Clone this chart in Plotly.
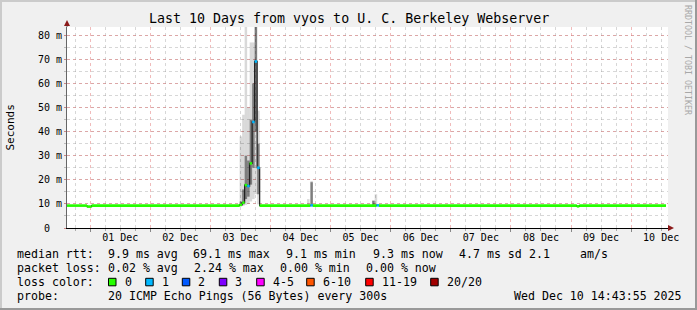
import plotly.graph_objects as go

# ---------------- data ----------------
t_start = "2025-11-30 14:43:55"
t_end = "2025-12-10 14:43:55"

# median rtt (ms) as steps: value holds from time i to time i+1
med_time = ["2025-11-30 14:43:55", "2025-11-30 22:44", "2025-12-01 00:33",
            "2025-12-03 11:40", "2025-12-03 12:40", "2025-12-03 13:40",
            "2025-12-03 14:40", "2025-12-03 15:40", "2025-12-03 16:40",
            "2025-12-03 17:40", "2025-12-03 18:40", "2025-12-03 19:40",
            "2025-12-04 15:55", "2025-12-04 16:55", "2025-12-05 18:20",
            "2025-12-05 19:20", "2025-12-09 02:19", "2025-12-09 03:19",
            "2025-12-10 13:55"]
med_val = [9.3, 8.9, 9.3, 9.6, 10.5, 17.8, 17.4, 26.8, 44.0, 69.1, 25.0,
           9.3, 9.4, 9.3, 9.4, 9.3, 9.0, 9.3]
med_loss = [0, 0, 0, 0, 0, 0, 1, 0, 1, 1, 1, 0, 1, 0, 1, 0, 0, 0]

# smoke (ping spread) per hourly bin, ms
smoke_time = ["2025-12-03 12:10", "2025-12-03 13:10", "2025-12-03 14:10",
              "2025-12-03 15:10", "2025-12-03 16:10", "2025-12-03 17:10",
              "2025-12-03 18:10", "2025-12-03 19:10",
              "2025-12-04 15:05", "2025-12-04 16:25",
              "2025-12-05 17:06", "2025-12-05 18:06"]
smoke_min = [9.0, 9.2, 9.6, 10.0, 11.0, 12.0, 14.0, 9.8, 9.2, 9.2, 9.2, 9.2]
smoke_q1 = [9.3, 9.8, 12.0, 13.0, 18.0, 25.0, 40.0, 14.0, 9.3, 9.4, 9.3, 9.3]
smoke_q3 = [11.0, 16.0, 30.0, 28.0, 45.0, 60.0, 90.0, 35.0, 9.6, 19.0, 11.3, 9.8]
smoke_max = [38.0, 47.0, 95.0, 50.0, 77.0, 77.0, 95.0, 48.7, 12.0, 19.5, 11.5, 14.0]

y_tickvals = [0, 10, 20, 30, 40, 50, 60, 70, 80]
y_ticktext = ["0\u00a0\u00a0", "10 m", "20 m", "30 m", "40 m", "50 m", "60 m", "70 m", "80 m"]

loss_labels = ["0", "1", "2", "3", "4-5", "6-10", "11-19", "20/20"]
loss_colors = ["#26ff00", "#00b8ff", "#0059ff", "#7e00ff", "#ff00ff", "#ff5500", "#ff0000", "#a10000"]

title = "Last 10 Days from vyos to U. C. Berkeley Webserver"
row_rtt = ["median rtt:", "9.9 ms avg", "69.1 ms max", "9.1 ms min", "9.3 ms now", "4.7 ms sd", "2.1", "am/s"]
row_loss = ["packet loss:", "0.02 % avg", "2.24 % max", "0.00 % min", "0.00 % now"]
probe_text = ["probe:", "20 ICMP Echo Pings (56 Bytes) every 300s", "Wed Dec 10 14:43:55 2025"]

# ---------------- layout geometry (pixels) ----------------
W, H = 697, 310
L, R, T, B = 67, 668, 27, 228
MONO = "DejaVu Sans Mono"


def px(x):
    return (x - L) / (R - L)


def py(y):
    return (B - y) / (B - T)


fig = go.Figure()

# smoke bands
fig.add_trace(go.Bar(x=smoke_time, base=smoke_min,
                     y=[a - b for a, b in zip(smoke_max, smoke_min)],
                     width=3600000, marker=dict(color="rgba(0,0,0,0.15)", line=dict(width=0)),
                     hoverinfo="skip", showlegend=False))
fig.add_trace(go.Bar(x=smoke_time, base=smoke_q1,
                     y=[a - b for a, b in zip(smoke_q3, smoke_q1)],
                     width=3600000, marker=dict(color="rgba(0,0,0,0.42)", line=dict(width=0)),
                     hoverinfo="skip", showlegend=False))

# dark step line of medians
fig.add_trace(go.Scatter(x=med_time, y=med_val + [med_val[-1]], mode="lines",
                         line=dict(color="#1e1e1e", width=1.2, shape="hv"),
                         hoverinfo="skip", showlegend=False))

# colored median segments by loss
for li, col in enumerate(loss_colors):
    xs, ys = [], []
    for i, v in enumerate(med_val):
        if med_loss[i] == li:
            xs += [med_time[i], med_time[i + 1], None]
            ys += [v, v, None]
    if xs:
        fig.add_trace(go.Scatter(x=xs, y=ys, mode="lines",
                                 line=dict(color=col, width=2.6),
                                 hoverinfo="skip", showlegend=False))

shapes = []
# frame borders
shapes.append(dict(type="rect", xref="paper", yref="paper", x0=px(0), x1=px(W), y0=py(0), y1=py(2),
                   fillcolor="#cbcbcb", line=dict(width=0), layer="above"))
shapes.append(dict(type="rect", xref="paper", yref="paper", x0=px(0), x1=px(2), y0=py(0), y1=py(H),
                   fillcolor="#cbcbcb", line=dict(width=0), layer="above"))
shapes.append(dict(type="rect", xref="paper", yref="paper", x0=px(0), x1=px(W), y0=py(H - 2), y1=py(H),
                   fillcolor="#999999", line=dict(width=0), layer="above"))
shapes.append(dict(type="rect", xref="paper", yref="paper", x0=px(W - 2), x1=px(W), y0=py(0), y1=py(H),
                   fillcolor="#999999", line=dict(width=0), layer="above"))
# axis extensions and arrows
shapes.append(dict(type="line", xref="paper", yref="paper", x0=px(R), x1=px(670), y0=py(B), y1=py(B),
                   line=dict(color="#000", width=1), layer="above"))
shapes.append(dict(type="line", xref="paper", yref="paper", x0=px(L), x1=px(L), y0=py(T), y1=py(24),
                   line=dict(color="#666", width=1), layer="above"))


def path(pts):
    return "M " + " L ".join(f"{px(a):.5f},{py(b):.5f}" for a, b in pts) + " Z"


shapes.append(dict(type="path", xref="paper", yref="paper", path=path([(668, 225), (674, 228), (668, 231)]),
                   fillcolor="#8b1a1a", line=dict(width=0), layer="above"))
shapes.append(dict(type="path", xref="paper", yref="paper", path=path([(64, 26), (67, 20), (70, 26)]),
                   fillcolor="#8b1a1a", line=dict(width=0), layer="above"))

annotations = []


def txt(s, x, y, size=11.6, anchor="left", color="#000", angle=0):
    annotations.append(dict(text=s, x=px(x), y=py(y), xref="paper", yref="paper",
                            xanchor=anchor, yanchor="middle", showarrow=False,
                            textangle=angle, borderpad=0,
                            font=dict(family=MONO, size=size, color=color)))


txt(title, 348.5, 19, size=13.3, anchor="center")
txt("Seconds", 10, 127.5, size=11, anchor="center", angle=-90)
txt("RRDTOOL / TOBI OETIKER", 688, 60, size=8.3, anchor="center", color="#a8a8a8", angle=90)

rtt_x = [16, 107.3, 192.3, 285, 372.3, 458.3, 528.3, 579.3]
for s, x in zip(row_rtt, rtt_x):
    txt(s, x, 254.3)
loss_x = [16, 107.3, 193.3, 279.3, 365]
for s, x in zip(row_loss, loss_x):
    txt(s, x, 268.3)
txt("loss color:", 16, 282)
sq_x = [108.5, 145.7, 182.3, 219.3, 256.7, 306.7, 365.7, 430.7]
for lab, col, x in zip(loss_labels, loss_colors, sq_x):
    shapes.append(dict(type="rect", xref="paper", yref="paper", x0=px(x), x1=px(x + 7.5),
                       y0=py(278.3), y1=py(285.8), fillcolor=col, line=dict(color="#000", width=1),
                       layer="above"))
    txt(lab, x + 15, 282)
for s, x in zip(probe_text, [16, 107.3, 512.7]):
    txt(s, x, 296)

grid_major = "rgba(225,120,120,0.5)"
grid_minor = "rgba(150,150,150,0.38)"

fig.update_layout(
    width=W, height=H, autosize=False,
    margin=dict(l=L, r=W - R, t=T, b=H - B, pad=0),
    paper_bgcolor="#f0f0f0", plot_bgcolor="#ffffff",
    barmode="overlay", showlegend=False,
    shapes=shapes, annotations=annotations,
    xaxis=dict(type="date", range=[t_start, t_end], showgrid=True, gridcolor=grid_major,
               griddash="dot", gridwidth=1, dtick=86400000, tick0="2025-12-01",
               tickformat="%d %b", ticklabelmode="period", ticks="outside", ticklen=3,
               ticklabelstandoff=-3,
               tickcolor="#888", tickfont=dict(family=MONO, size=10, color="#000"),
               showline=True, linecolor="#000", linewidth=1, zeroline=False,
               minor=dict(dtick=21600000, tick0="2025-12-01", showgrid=True, gridcolor=grid_minor,
                          griddash="dot", ticks="outside", ticklen=2, tickcolor="#aaa")),
    yaxis=dict(range=[0, 83.4], tickvals=y_tickvals, ticktext=y_ticktext, showgrid=True,
               gridcolor=grid_major, griddash="dot", gridwidth=1, ticks="outside", ticklen=2,
               tickcolor="#c88", tickfont=dict(family=MONO, size=10, color="#000"),
               showline=True, linecolor="#666", linewidth=1, zeroline=False,
               minor=dict(dtick=5, showgrid=True, gridcolor=grid_minor, griddash="dot",
                          ticks="outside", ticklen=2, tickcolor="#bbb")),
)

fig.write_html("out.html")
